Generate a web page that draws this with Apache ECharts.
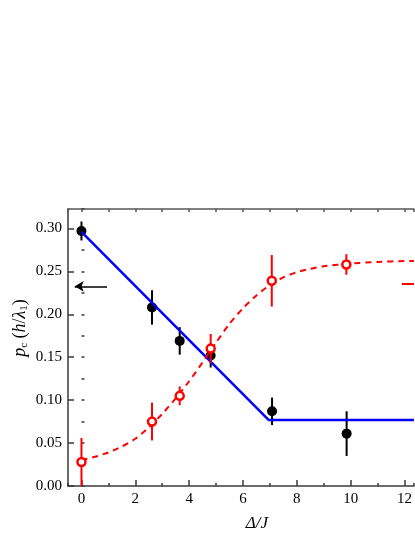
<!DOCTYPE html>
<html><head><meta charset="utf-8">
<script src="https://cdn.jsdelivr.net/npm/echarts@6/dist/echarts.min.js"></script>
<style>html,body{margin:0;padding:0;background:#fff}#c{width:415px;height:537px}</style>
</head><body><div id="c"></div>
<script>
// Data
const blackX = [0, 2.62, 3.65, 4.8, 7.08, 9.85];
const blackY = [0.297, 0.208, 0.169, 0.152, 0.087, 0.061];
const blackErr = [0.011, 0.020, 0.016, 0.014, 0.016, 0.026];
const redX = [0, 2.62, 3.65, 4.8, 7.07, 9.84];
const redY = [0.028, 0.075, 0.105, 0.160, 0.239, 0.258];
const redErr = [0.028, 0.022, 0.011, 0.017, 0.030, 0.012];
const blueFitX = [0, 6.95, 12.35];
const blueFitY = [0.296, 0.077, 0.077];
const redFitX = [0, 0.5, 1, 1.5, 2, 2.5, 3, 3.5, 4, 4.5, 5, 5.5, 6, 6.5, 7, 7.5, 8, 8.5, 9, 10, 11, 12, 12.35];
const redFitY = [0.030, 0.034, 0.039, 0.046, 0.055, 0.068, 0.084, 0.102, 0.122, 0.144, 0.167, 0.189, 0.207, 0.222, 0.234, 0.243, 0.249, 0.253, 0.256, 0.259, 0.261, 0.262, 0.262];
const blackArrow = [[0.95, 0.2325], [-0.25, 0.2325]];
const redSegment = [[11.9, 0.235], [12.35, 0.235]];

const FONT = 'Liberation Serif';
const AX = '#3a3a3a';
const chart = echarts.init(document.getElementById('c'), null, {renderer: 'canvas'});

function errBars(color) {
  return function (params, api) {
    const x = api.value(0);
    const p1 = api.coord([x, api.value(1)]);
    const p2 = api.coord([x, api.value(2)]);
    return {type: 'line', shape: {x1: p1[0], y1: p1[1], x2: p2[0], y2: p2[1]},
      style: {stroke: color, lineWidth: 2}};
  };
}
const zip = (xs, ys) => xs.map((x, i) => [x, ys[i]]);

const xCommon = {type: 'value', min: -0.5, max: 12.35, gridIndex: 0};
const yCommon = {type: 'value', min: 0, max: 0.3225, gridIndex: 0};

chart.setOption({
  animation: false,
  backgroundColor: '#fff',
  grid: {left: 68, top: 209.1, width: 347, height: 278.4, containLabel: false},
  xAxis: [
    Object.assign({}, xCommon, {
      position: 'bottom', splitNumber: 6,
      name: 'Δ/J', nameLocation: 'middle', nameGap: 29,
      nameTextStyle: {fontFamily: FONT, fontStyle: 'italic', fontSize: 17, color: '#000', padding: [0, 0, 0, 32]},
      axisLine: {show: true, onZero: false, lineStyle: {color: AX, width: 1.5}},
      axisTick: {show: true, inside: true, length: 6, lineStyle: {color: AX, width: 1.5}},
      axisLabel: {show: true, showMinLabel: false, showMaxLabel: false, margin: 6,
        fontFamily: FONT, fontSize: 15, color: '#000'},
      splitLine: {show: false}
    }),
    Object.assign({}, xCommon, {
      position: 'bottom', splitNumber: 13,
      axisLine: {show: false},
      axisTick: {show: true, inside: true, length: 3, lineStyle: {color: AX, width: 1.5}},
      axisLabel: {show: false}, splitLine: {show: false}
    }),
    Object.assign({}, xCommon, {
      position: 'top', splitNumber: 13,
      axisLine: {show: true, onZero: false, lineStyle: {color: '#555', width: 1.5}},
      axisTick: {show: true, inside: true, length: 3, lineStyle: {color: '#555', width: 1.5}},
      axisLabel: {show: false}, splitLine: {show: false}
    })
  ],
  yAxis: [
    Object.assign({}, yCommon, {
      position: 'left', interval: 0.05,
      axisLine: {show: true, onZero: false, lineStyle: {color: AX, width: 1.5}},
      axisTick: {show: true, inside: true, length: 6, lineStyle: {color: AX, width: 1.5}},
      axisLabel: {show: true, showMaxLabel: false, margin: 6, fontFamily: FONT, fontSize: 15, color: '#000',
        formatter: v => v.toFixed(2)},
      splitLine: {show: false}
    }),
    Object.assign({}, yCommon, {
      position: 'left', interval: 0.025,
      axisLine: {show: false},
      axisTick: {show: true, inside: true, length: 3, lineStyle: {color: AX, width: 1.5}},
      axisLabel: {show: false}, splitLine: {show: false}
    })
  ],
  graphic: [{
    type: 'text', x: 20, y: 328, rotation: Math.PI / 2,
    style: {
      text: '{i|p}{s|c}{n| (}{i|h}{n|/}{i|λ}{s|1}{n|)}',
      align: 'center', verticalAlign: 'middle',
      rich: {
        i: {fontFamily: FONT, fontStyle: 'italic', fontSize: 18, lineHeight: 20, fill: '#000'},
        n: {fontFamily: FONT, fontSize: 18, lineHeight: 20, fill: '#000'},
        s: {fontFamily: FONT, fontSize: 11, lineHeight: 20, verticalAlign: 'bottom', fill: '#000'}
      }
    }
  }],
  series: [
    {
      type: 'custom', xAxisIndex: 0, yAxisIndex: 0, z: 2, clip: true,
      renderItem: errBars('#000'),
      data: blackX.map((x, i) => [x, blackY[i] - blackErr[i], blackY[i] + blackErr[i]]),
      markLine: {
        silent: true, symbol: ['none', 'arrow'], symbolSize: [8, 9], animation: false,
        label: {show: false},
        lineStyle: {color: '#000', width: 1.5, type: 'solid'},
        data: [[{coord: blackArrow[0]}, {coord: blackArrow[1]}]]
      }
    },
    {
      type: 'scatter', xAxisIndex: 0, yAxisIndex: 0, z: 3,
      symbol: 'circle', symbolSize: 10,
      itemStyle: {color: '#000', opacity: 1},
      data: zip(blackX, blackY)
    },
    {
      type: 'line', xAxisIndex: 0, yAxisIndex: 0, z: 4, showSymbol: false, symbol: 'none',
      lineStyle: {color: '#0000ff', width: 2.5},
      data: zip(blueFitX, blueFitY)
    },
    {
      type: 'line', xAxisIndex: 0, yAxisIndex: 0, z: 5, showSymbol: false, symbol: 'none', smooth: 0.2,
      lineStyle: {color: '#ff0000', width: 2, type: [6, 5]},
      data: zip(redFitX, redFitY),
      markLine: {
        silent: true, symbol: ['none', 'none'], animation: false,
        label: {show: false},
        lineStyle: {color: '#ff0000', width: 2, type: 'solid'},
        data: [[{coord: redSegment[0]}, {coord: redSegment[1]}]]
      }
    },
    {
      type: 'custom', xAxisIndex: 0, yAxisIndex: 0, z: 6, clip: true,
      renderItem: errBars('#ff0000'),
      data: redX.map((x, i) => [x, redY[i] - redErr[i], redY[i] + redErr[i]])
    },
    {
      type: 'scatter', xAxisIndex: 0, yAxisIndex: 0, z: 7,
      symbol: 'circle', symbolSize: 8,
      itemStyle: {color: '#fff', borderColor: '#ff0000', borderWidth: 2.5, opacity: 1},
      data: zip(redX, redY)
    }
  ]
});
</script></body></html>
